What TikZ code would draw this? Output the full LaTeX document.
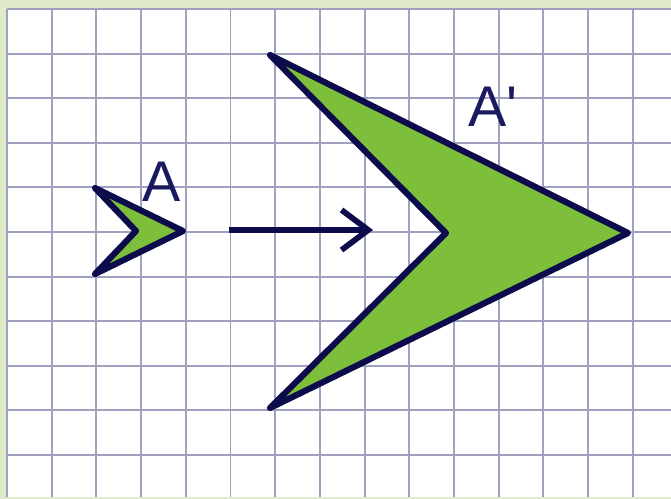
\documentclass[tikz,border=0pt]{standalone}
\usepackage{fontspec}
\setmainfont{Liberation Sans}
\usetikzlibrary{arrows.meta}
\definecolor{bordergreen}{RGB}{222,234,200}
\definecolor{gridcol}{RGB}{160,160,192}
\definecolor{navy}{RGB}{12,12,76}
\definecolor{textnavy}{RGB}{26,26,96}
\definecolor{fillgreen}{RGB}{125,190,58}
\tikzset{
  shapefig/.style={draw=navy, fill=fillgreen, line width=4.6pt, line join=round},
  gridline/.style={draw=gridcol, line width=1.4pt},
  lbl/.style={inner sep=0pt, text=textnavy, font=\fontsize{43}{43}\selectfont},
  movearrow/.style={draw=navy, line width=4.3pt, -{Straight Barb[length=20pt, width=30pt, line width=4.3pt]}}
}
\begin{document}
\begin{tikzpicture}[x=0.75pt, y=-0.75pt]
\useasboundingbox (0,0) rectangle (671,499);
\fill[bordergreen] (0,0) rectangle (671,499);
\fill[white] (7,9) rectangle (671,497);
\foreach \k in {0,...,14} {
  \draw[gridline] ({7+44.7*\k},9) -- ({7+44.7*\k},497);
}
\foreach \k in {0,...,10} {
  \draw[gridline] (7,{9+44.6*\k}) -- (671,{9+44.6*\k});
}
% small figure A
\coordinate (a1) at (95,188);
\coordinate (a2) at (183,231);
\coordinate (a3) at (95,274);
\coordinate (a4) at (136,231);
\draw[shapefig] (a1) -- (a2) -- (a3) -- (a4) -- cycle;
% big figure A'
\coordinate (b1) at (270,55);
\coordinate (b2) at (628,233);
\coordinate (b3) at (270,408);
\coordinate (b4) at (446,233);
\draw[shapefig] (b1) -- (b2) -- (b3) -- (b4) -- cycle;
% arrow
\coordinate (arrS) at (229,230);
\coordinate (arrE) at (373,230);
\draw[movearrow] (arrS) -- (arrE);
% labels
\node[lbl, anchor=west] (labA) at (142,182) {A};
\node[lbl, anchor=west] (labB) at (468,107) {A\textquotesingle};
\end{tikzpicture}
\end{document}
